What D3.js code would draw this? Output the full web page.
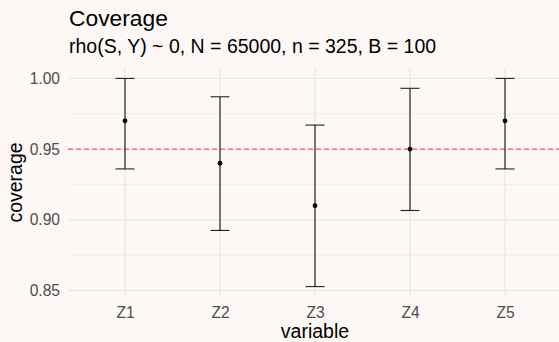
<!DOCTYPE html>
<html>
<head>
<meta charset="utf-8">
<script src="https://cdn.jsdelivr.net/npm/d3@7"></script>
<style>
  html, body { margin: 0; padding: 0; background: #FDF8F5; }
  svg { display: block; font-family: "Liberation Sans", Arial, sans-serif; }
</style>
</head>
<body>
<div id="chart"></div>
<script>
// coverage estimates with 95% intervals
var variables = ["Z1", "Z2", "Z3", "Z4", "Z5"];
var coverage = [0.97, 0.94, 0.91, 0.95, 0.97];
var lower = [0.936, 0.8925, 0.8528, 0.9066, 0.936];
var upper = [1.00, 0.987, 0.967, 0.993, 1.00];
var yTicks = [0.85, 0.90, 0.95, 1.00];
var yMinor = [0.875, 0.925, 0.975];
var target = 0.95;

var width = 559, height = 342;
// panel edges (note: "top" is a reserved window property, so use pTop etc)
var pLeft = 68, pRight = 562, pTop = 68, pBottom = 297;
var base = 19.5;

var svg = d3.select("#chart").append("svg")
  .attr("width", width)
  .attr("height", height);

svg.append("rect").attr("width", width).attr("height", height).attr("fill", "#FDF8F5");

var data = variables.map(function(v, i) {
  return {name: v, est: coverage[i], lo: lower[i], hi: upper[i]};
});

// discrete scale, ggplot style 0.6 expansion each side
var x = d3.scalePoint().domain(variables).range([pLeft, pRight]).padding(0.6);
var step = x.step();

var ymin = d3.min(lower), ymax = d3.max(upper);
var pad = (ymax - ymin) * 0.05;
var y = d3.scaleLinear().domain([ymin - pad, ymax + pad]).range([pBottom, pTop]);

// grid
var grid = svg.append("g");
grid.selectAll(".minor").data(yMinor).enter().append("line")
  .attr("x1", pLeft).attr("x2", pRight)
  .attr("y1", d => y(d)).attr("y2", d => y(d))
  .attr("stroke", "#EEEBEA").attr("stroke-width", 0.8);
grid.selectAll(".major").data(yTicks).enter().append("line")
  .attr("x1", pLeft).attr("x2", pRight)
  .attr("y1", d => y(d)).attr("y2", d => y(d))
  .attr("stroke", "#EBE8E7").attr("stroke-width", 1.4);
grid.selectAll(".vmajor").data(variables).enter().append("line")
  .attr("x1", d => x(d)).attr("x2", d => x(d))
  .attr("y1", pTop).attr("y2", pBottom)
  .attr("stroke", "#EBE8E7").attr("stroke-width", 1.4);

// axes (text only, as in theme_minimal)
var yAxis = svg.append("g")
  .attr("transform", "translate(" + pLeft + ",0)")
  .call(d3.axisLeft(y).tickValues(yTicks).tickFormat(d3.format(".2f")).tickSize(0).tickPadding(8));
yAxis.select(".domain").remove();
yAxis.selectAll("text").attr("font-size", base * 0.8).attr("fill", "#4D4D4D").attr("font-family", "Liberation Sans, Arial, sans-serif");

var xAxis = svg.append("g")
  .attr("transform", "translate(0," + pBottom + ")")
  .call(d3.axisBottom(x).tickSize(0).tickPadding(10));
xAxis.select(".domain").remove();
xAxis.selectAll("text").attr("font-size", base * 0.8).attr("fill", "#4D4D4D").attr("font-family", "Liberation Sans, Arial, sans-serif");

// reference line
svg.append("line")
  .attr("x1", pLeft).attr("x2", pRight)
  .attr("y1", y(target)).attr("y2", y(target))
  .attr("stroke", "#FF5A5A").attr("stroke-width", 1.2)
  .attr("stroke-dasharray", "5,3");

// error bars
var bars = svg.selectAll(".bar").data(data).enter().append("g");
bars.append("line")
  .attr("x1", d => x(d.name)).attr("x2", d => x(d.name))
  .attr("y1", d => y(d.lo)).attr("y2", d => y(d.hi))
  .attr("stroke", "#111").attr("stroke-width", 1.1);
bars.append("line")
  .attr("x1", d => x(d.name) - step * 0.1).attr("x2", d => x(d.name) + step * 0.1)
  .attr("y1", d => y(d.lo)).attr("y2", d => y(d.lo))
  .attr("stroke", "#222").attr("stroke-width", 1.1);
bars.append("line")
  .attr("x1", d => x(d.name) - step * 0.1).attr("x2", d => x(d.name) + step * 0.1)
  .attr("y1", d => y(d.hi)).attr("y2", d => y(d.hi))
  .attr("stroke", "#222").attr("stroke-width", 1.1);
bars.append("circle")
  .attr("cx", d => x(d.name)).attr("cy", d => y(d.est))
  .attr("r", 2.4).attr("fill", "#000");

// titles
svg.append("text").attr("x", pLeft + 1).attr("y", 26)
  .attr("font-size", base * 1.17).attr("fill", "#000").text("Coverage");
svg.append("text").attr("x", pLeft + 1).attr("y", 53)
  .attr("font-size", base).attr("fill", "#000").text("rho(S, Y) ~ 0, N = 65000, n = 325, B = 100");
svg.append("text").attr("x", (pLeft + pRight) / 2).attr("y", 338)
  .attr("text-anchor", "middle").attr("font-size", base).attr("fill", "#000").text("variable");
svg.append("text")
  .attr("transform", "translate(22," + ((pTop + pBottom) / 2) + ") rotate(-90)")
  .attr("text-anchor", "middle").attr("font-size", base).attr("fill", "#000").text("coverage");
</script>
</body>
</html>
